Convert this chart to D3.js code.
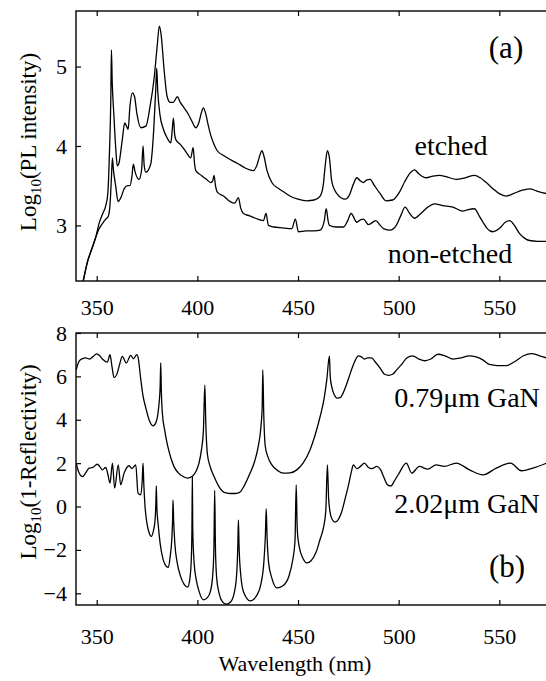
<!DOCTYPE html>
<html>
<head>
<meta charset="utf-8">
<script src="https://cdnjs.cloudflare.com/ajax/libs/d3/7.8.5/d3.min.js"></script>
<style>
  body { margin: 0; background: #fff; }
</style>
</head>
<body>
<svg id="chart" width="546" height="681" font-family="Liberation Serif"></svg>
<script>
var FONT = "Liberation Serif"

// tick values
var wavelengthTicks = [350, 400, 450, 500, 550]
var plTicks = [3, 4, 5]
var reflTicks = [-4, -2, 0, 2, 4, 6, 8]

// (a) PL spectra, [wavelength nm, log10 intensity]
var etched = [
  [343.3, 2.3], [345.5, 2.55], [347.5, 2.7], [349.5, 2.85], [351.1, 3.02], [353, 3.15], [354.5, 3.25],
  [355.5, 3.4], [356.3, 3.9], [357, 4.6], [357.3, 5.21], [357.7, 4.8], [358.5, 4.4], [359.5, 3.95],
  [360.2, 3.75], [361, 3.78], [362.7, 4.08], [363.9, 4.29], [364.8, 4.25], [365.6, 4.21], [366.5, 4.5],
  [367.7, 4.67], [368.8, 4.62], [370, 4.4], [371.9, 4.23], [374.4, 4.25], [376.5, 4.5], [378.5, 4.85],
  [380, 5.25], [381.1, 5.51], [382, 5.4], [383.5, 4.95], [385, 4.62], [386.5, 4.55], [388, 4.55],
  [390.1, 4.62], [391.5, 4.55], [393.4, 4.48], [395.5, 4.4], [397.5, 4.3], [399.2, 4.23], [400.8, 4.3],
  [402, 4.42], [403, 4.48], [404, 4.42], [405.5, 4.25], [406.7, 4.13], [408.3, 4.02], [409.9, 3.94],
  [413, 3.88], [416.3, 3.83], [420, 3.78], [424, 3.72], [427.8, 3.69], [429.5, 3.75], [431, 3.88],
  [432, 3.94], [433, 3.88], [434.5, 3.7], [437, 3.54], [440, 3.47], [443, 3.42], [446, 3.37], [450, 3.33],
  [454.4, 3.31], [458, 3.32], [461, 3.37], [462.5, 3.5], [463.5, 3.75], [464.6, 3.94], [465.6, 3.85],
  [466.8, 3.55], [469.3, 3.4], [473.4, 3.33], [475.5, 3.38], [477.5, 3.52], [479.2, 3.6], [481, 3.56],
  [482.5, 3.54], [484, 3.57], [485.8, 3.58], [488, 3.5], [490.8, 3.4], [493.8, 3.31], [497, 3.32],
  [500.4, 3.42], [503, 3.55], [506, 3.67], [507.9, 3.7], [510, 3.65], [513.7, 3.6], [517, 3.62],
  [520.3, 3.63], [524, 3.61], [528.6, 3.58], [533, 3.6], [537.7, 3.63], [540.5, 3.6], [543.5, 3.54],
  [547, 3.46], [550, 3.4], [553.4, 3.37], [557, 3.4], [561, 3.44], [565, 3.46], [569, 3.43], [573.5, 3.4]
]
var nonEtched = [
  [343.3, 2.3], [345.5, 2.55], [347.5, 2.7], [349.5, 2.85], [351, 2.95], [353, 3.03], [354.5, 3.08],
  [355.8, 3.12], [356.7, 3.3], [357.3, 3.6], [357.8, 3.85], [358.3, 3.7], [359.4, 3.5], [360.6, 3.3],
  [362, 3.35], [363.6, 3.46], [365.2, 3.5], [366.5, 3.5], [367.5, 3.62], [368.2, 3.77], [369, 3.68],
  [371, 3.58], [372.3, 3.7], [373, 4.0], [373.6, 3.75], [374.4, 3.67], [376.8, 3.77], [378.3, 4.2],
  [379.3, 4.7], [379.8, 4.98], [380.3, 4.7], [381.5, 4.38], [383, 4.22], [385, 4.1], [386.8, 4.04],
  [387.5, 4.2], [388.1, 4.35], [388.7, 4.15], [389.3, 4.08], [391.5, 4.02], [393.4, 3.96], [395, 3.9],
  [396.7, 3.85], [397.9, 3.98], [398.6, 3.78], [399.2, 3.69], [402, 3.63], [404.5, 3.58], [406.7, 3.54],
  [407.6, 3.56], [408.3, 3.63], [409, 3.5], [409.9, 3.42], [413, 3.37], [416.3, 3.3], [418.5, 3.28],
  [420.4, 3.35], [421.5, 3.22], [422.9, 3.15], [426, 3.12], [430, 3.08], [432.8, 3.06], [434.1, 3.15],
  [435.3, 3.0], [438, 2.98], [442, 2.97], [446.9, 2.96], [448.7, 3.08], [450.2, 2.92], [454, 2.93],
  [458, 2.93], [461, 2.94], [463, 3.05], [464, 3.21], [465, 3.05], [465.6, 3.0], [469, 2.98],
  [472.6, 2.98], [474.5, 3.05], [476.4, 3.15], [479.2, 3.04], [481, 3.07], [482.5, 3.08], [485, 3.01],
  [488.7, 3.06], [490.5, 3.01], [492.5, 2.96], [495.8, 2.94], [498.8, 3.0], [501, 3.12], [503.2, 3.23],
  [505.5, 3.15], [507.9, 3.09], [511, 3.15], [514.5, 3.23], [517.8, 3.27], [522, 3.25], [527, 3.23],
  [531.9, 3.18], [534.5, 3.2], [537.7, 3.21], [540, 3.12], [541.9, 3.04], [544, 2.96], [546.8, 2.92],
  [550, 2.96], [553, 3.04], [555.1, 3.06], [557.5, 3.0], [560, 2.9], [562.5, 2.84], [565, 2.81],
  [569, 2.8], [573.5, 2.8]
]

// (b) log10(1-R), [wavelength nm, value]
var gan079 = [
  [339.8, 6.3], [341.2, 6.69], [343, 6.82], [344.5, 6.85], [346.5, 6.8], [348, 6.9], [350, 7.04],
  [351.5, 6.95], [352.8, 6.8], [355.3, 6.66], [356.6, 7.0], [357.5, 6.5], [358.6, 5.95], [360.2, 6.15],
  [361.5, 6.6], [362.7, 6.92], [364.7, 6.62], [366.9, 6.97], [368.2, 6.81], [369.9, 7.0], [370.5, 6.9],
  [371.9, 5.85], [373, 5.1], [374.4, 4.54], [376, 4.0], [378, 3.72], [379.5, 3.9], [380.8, 4.6],
  [381.5, 5.5], [381.8, 6.62], [382.1, 5.3], [382.6, 4.31], [383.8, 3.5], [385.1, 2.85], [386.8, 2.25],
  [388.4, 1.84], [390.5, 1.55], [393, 1.38], [395, 1.31], [397.5, 1.4], [399.2, 1.6], [400.8, 2.0],
  [402, 2.6], [403, 3.5], [403.7, 5.6], [404.2, 3.8], [405, 2.4], [406.5, 1.8], [408.3, 1.38],
  [410.5, 0.95], [413.3, 0.65], [416, 0.6], [419, 0.6], [421, 0.65], [423.5, 1.0], [426.2, 1.54],
  [428.5, 2.1], [430.3, 2.8], [431.5, 3.6], [432.2, 4.6], [432.5, 6.3], [433, 4.2], [433.7, 2.8],
  [435, 2.3], [437, 1.92], [440, 1.65], [442.7, 1.54], [446, 1.55], [449.4, 1.69], [452.5, 2.0],
  [456, 2.62], [458.5, 3.3], [461, 4.15], [463, 5.0], [464.3, 5.85], [465.6, 6.95], [466, 6.0],
  [466.8, 5.5], [468, 5.15], [469.5, 5.0], [471, 5.02], [472.5, 5.25], [474, 5.6], [476, 6.15],
  [478, 6.65], [480, 6.95], [481.5, 6.9], [483, 6.8], [484.5, 6.85], [486.5, 6.85], [488.5, 6.65],
  [490.8, 6.38], [493, 6.1], [495, 6.05], [497, 6.1], [499, 6.3], [501.5, 6.55], [504, 6.85],
  [507, 6.95], [510, 6.8], [513, 6.72], [516, 6.8], [519.5, 7.02], [523, 6.95], [527, 6.8], [531, 6.85],
  [535, 6.95], [538.5, 6.9], [542, 6.75], [545, 6.55], [549, 6.5], [553.5, 6.5], [558, 6.7], [562, 6.95],
  [566, 7.05], [570, 6.95], [573.5, 6.85]
]
var gan202 = [
  [339.8, 2.0], [341, 1.6], [342.9, 1.38], [344.5, 1.55], [346.2, 1.77], [348, 1.8], [350.3, 1.95],
  [351.5, 1.85], [352.8, 1.69], [354.5, 1.8], [355.5, 1.5], [356.6, 1.08], [357.8, 2.0], [358.9, 0.85],
  [360.7, 1.92], [361.9, 1.0], [363.6, 1.54], [366.1, 1.88], [367.5, 1.75], [369.4, 1.92], [370.5, 0.62],
  [371.9, 0.54], [372.6, 1.2], [373, 2.0], [373.4, 1.0], [374, 0.0], [375, -0.8], [376, -1.2],
  [377.1, -1.38], [378.2, -1.1], [379, -0.6], [379.4, 0.2], [379.6, 0.95], [379.9, -0.1], [380.5, -0.8],
  [381.5, -1.7], [383, -2.45], [384.5, -2.75], [385.6, -2.8], [386.5, -2.3], [387.3, -1.5], [387.7, -0.6],
  [387.9, 0.3], [388.2, -0.6], [388.8, -1.7], [390, -2.6], [391.7, -3.23], [393.5, -3.6], [395.2, -3.72],
  [396.3, -3.3], [397, -2.4], [397.3, -1.0], [397.5, 1.35], [397.7, -1.0], [398.4, -2.62], [399.5, -3.4],
  [400.8, -3.9], [403, -4.3], [405, -4.2], [406.5, -3.9], [407.5, -3.3], [408.2, -2.0], [408.6, 0.75],
  [409, -2.0], [409.6, -3.3], [410.8, -4.0], [412.4, -4.38], [414.4, -4.5], [416.5, -4.4], [418.5, -3.9],
  [419.6, -3.0], [420.1, -1.8], [420.4, -0.62], [420.7, -1.8], [421.6, -3.2], [423, -3.95], [426.3, -4.35],
  [429.5, -4.1], [431.5, -3.6], [433, -2.6], [433.8, -1.3], [434.2, -0.1], [434.6, -1.3], [435.4, -2.6],
  [437, -3.3], [439.5, -3.75], [442.5, -3.65], [445.5, -3.2], [447.3, -2.5], [448.5, -1.6], [449.1, 1.0],
  [449.6, -1.0], [450.5, -1.8], [452.5, -2.4], [454.4, -2.6], [456.5, -2.5], [459, -2.1], [461, -1.5],
  [462.6, -1.0], [463.8, -0.2], [464.6, 1.92], [465.2, 0.4], [465.8, -0.2], [467, -0.6], [468.4, -0.72],
  [470, -0.6], [471.5, -0.3], [473.5, 0.4], [475, 0.95], [476.5, 1.6], [477.5, 1.92], [479.2, 1.75],
  [481, 1.85], [483, 2.0], [485, 1.8], [486.7, 1.75], [489.2, 1.85], [491, 1.7], [492.5, 1.38],
  [494.5, 1.0], [496.2, 0.95], [498, 1.2], [500, 1.5], [503.8, 2.0], [506.5, 1.54], [510.3, 1.85],
  [514.5, 1.72], [518.6, 1.92], [522.7, 1.85], [528.6, 2.0], [535.2, 1.69], [541.9, 1.46], [548.5, 1.77],
  [555.6, 2.0], [561, 1.65], [566.7, 1.77], [573.5, 2.0]
]

var svg = d3.select("#chart")

var x = d3.scaleLinear().domain([340, 573.5]).range([76.6, 546.6])
var yA = d3.scaleLinear().domain([2.3, 5.7]).range([281, 11])
var yB = d3.scaleLinear().domain([-4.54, 8]).range([605, 333])

var defs = svg.append("defs")

function panel(id, y, ticksY, series, labelPad) {
    var top = y.range()[1], bottom = y.range()[0]
    var left = 76, right = 548
    defs.append("clipPath").attr("id", id)
        .append("rect").attr("x", left).attr("y", top)
        .attr("width", right - left).attr("height", bottom - top)

    var g = svg.append("g")

    // bottom ticks + labels
    g.append("g")
        .attr("transform", "translate(0," + bottom + ")")
        .call(d3.axisBottom(x).tickValues(wavelengthTicks).tickSizeInner(-5).tickSizeOuter(0).tickPadding(labelPad))
    // top ticks
    g.append("g")
        .attr("transform", "translate(0," + top + ")")
        .call(d3.axisTop(x).tickValues(wavelengthTicks).tickSizeInner(-5).tickSizeOuter(0).tickFormat(""))
    // left ticks
    g.append("g")
        .attr("transform", "translate(" + left + ",0)")
        .call(d3.axisLeft(y).tickValues(ticksY).tickFormat(d3.format("d")).tickSizeInner(-5).tickSizeOuter(0).tickPadding(9))

    g.selectAll(".domain").remove()
    g.selectAll("g").attr("font-family", FONT).attr("font-size", 22)
    g.selectAll(".tick line").attr("stroke", "#000").attr("stroke-width", 1.2)
    g.selectAll(".tick text").attr("font-family", FONT).attr("font-size", 22).attr("fill", "#000")

    var line = d3.line()
        .curve(d3.curveMonotoneX)
        .x(function(d) { return x(d[0]) })
        .y(function(d) { return y(d[1]) })

    g.append("g").attr("clip-path", "url(#" + id + ")")
        .selectAll("path")
        .data(series)
        .enter().append("path")
        .attr("d", line)
        .attr("fill", "none")
        .attr("stroke", "#000")
        .attr("stroke-width", 1.3)
        .attr("stroke-linejoin", "round")

    g.append("rect")
        .attr("x", left).attr("y", top)
        .attr("width", right - left).attr("height", bottom - top)
        .attr("fill", "none").attr("stroke", "#000").attr("stroke-width", 1.4)
    return g
}

panel("clipA", yA, plTicks, [etched, nonEtched], 18)
panel("clipB", yB, reflTicks, [gan079, gan202], 23)

function yTitle(cx, cy, pre, post) {
    var t = svg.append("text")
        .attr("transform", "translate(" + cx + "," + cy + ") rotate(-90)")
        .attr("text-anchor", "middle")
        .attr("font-family", FONT)
        .attr("font-size", 23)
    t.append("tspan").text(pre)
    t.append("tspan").attr("dy", 5).attr("font-size", 15).text("10")
    t.append("tspan").attr("dy", -5).text(post)
}
yTitle(36, 142, "Log", "(PL intensity)")
yTitle(36, 462, "Log", "(1-Reflectivity)")

svg.append("text").attr("x", 295).attr("y", 671).attr("text-anchor", "middle")
    .attr("font-family", FONT).attr("font-size", 22).text("Wavelength (nm)")

var labels = [
  { t: "(a)", x: 506, y: 58, s: 31 },
  { t: "etched", x: 451, y: 155, s: 28 },
  { t: "non-etched", x: 450, y: 263, s: 28 },
  { t: "0.79\u03bcm GaN", x: 467, y: 407, s: 28 },
  { t: "2.02\u03bcm GaN", x: 467, y: 513, s: 28 },
  { t: "(b)", x: 507, y: 577, s: 31 }
]
svg.selectAll(".lbl").data(labels).enter().append("text")
    .attr("class", "lbl")
    .attr("x", function(d) { return d.x })
    .attr("y", function(d) { return d.y })
    .attr("text-anchor", "middle")
    .attr("font-family", FONT)
    .attr("font-size", function(d) { return d.s })
    .text(function(d) { return d.t })
</script>
</body>
</html>
